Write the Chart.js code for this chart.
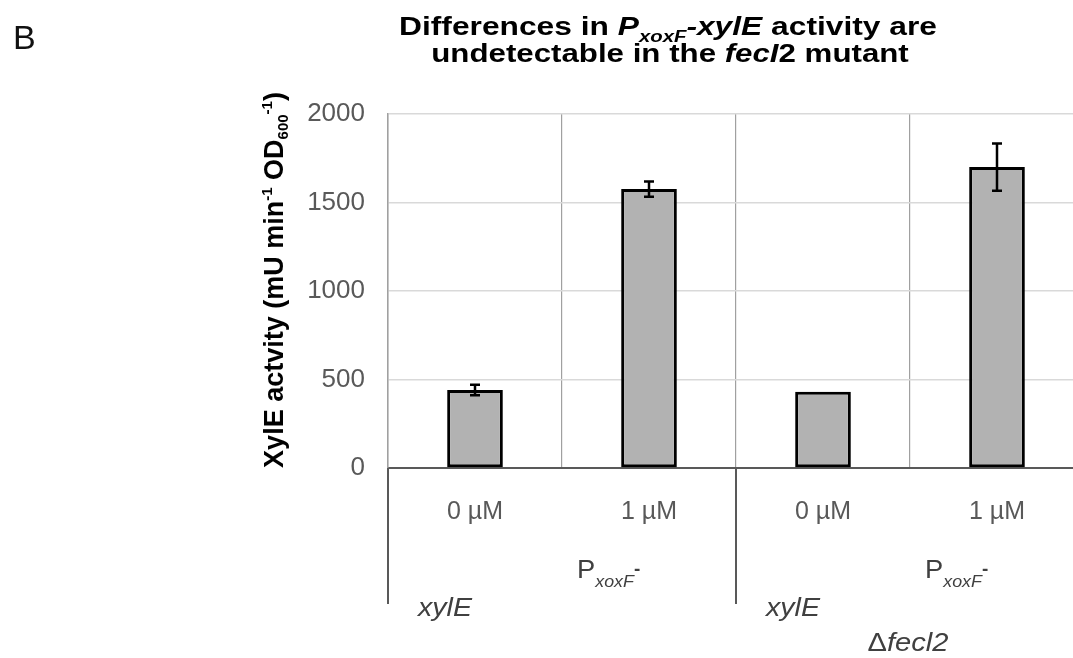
<!DOCTYPE html>
<html>
<head>
<meta charset="utf-8">
<script src="https://cdn.jsdelivr.net/npm/chart.js@4/dist/chart.umd.min.js"></script>
<style>
html,body{margin:0;padding:0;background:#fff;overflow:hidden;width:1073px;height:658px}
#wrap{width:1073px;height:658px;overflow:hidden;position:relative;background:#fff}
canvas{position:absolute;left:0;top:0}
</style>
</head>
<body>
<div id="wrap"><canvas id="c" width="1100" height="658"></canvas></div>
<script>
// ---- data ----
const categories = ['0 µM', '1 µM', '0 µM', '1 µM'];
const activity = [441, 1576, 431, 1700];
const activityErr = [30, 43, 0, 133];
const yTickValues = [0, 500, 1000, 1500, 2000];
const groupPromoter = ['P', 'P'];
const groupPromoterSub = ['xoxF', 'xoxF'];
const groupGene = ['xylE', 'xylE'];
const groupBackground = ['', 'Δfecl2'];
const groupSize = 2;
const panelLetter = 'B';

const FAM = '"Liberation Sans", Arial, Helvetica, sans-serif';

function drawRuns(ctx, runs, x, y, align, scaleX) {
  scaleX = scaleX || 1;
  let w = 0;
  runs.forEach(r => { ctx.font = r.font; r.w = ctx.measureText(r.text).width; w += r.w; });
  ctx.save();
  ctx.translate(x, y);
  ctx.scale(scaleX, 1);
  let cx = align === 'center' ? -w / 2 : 0;
  ctx.textBaseline = 'alphabetic';
  ctx.textAlign = 'left';
  runs.forEach(r => {
    ctx.font = r.font;
    ctx.fillStyle = r.color || '#000';
    ctx.fillText(r.text, cx, r.dy || 0);
    cx += r.w;
  });
  ctx.restore();
  return w * scaleX;
}

const annot = {
  id: 'annot',
  afterDatasetsDraw(chart) {
    const ctx = chart.ctx;
    const y = chart.scales.y;
    const meta = chart.getDatasetMeta(0);
    ctx.save();
    ctx.strokeStyle = '#000';
    ctx.lineWidth = 2.5;
    meta.data.forEach((bar, i) => {
      const e = activityErr[i];
      if (!e) return;
      const v = activity[i];
      const y1 = y.getPixelForValue(v + e), y2 = y.getPixelForValue(v - e);
      ctx.beginPath();
      ctx.moveTo(bar.x, y1); ctx.lineTo(bar.x, y2);
      ctx.moveTo(bar.x - 5, y1); ctx.lineTo(bar.x + 5, y1);
      ctx.moveTo(bar.x - 5, y2); ctx.lineTo(bar.x + 5, y2);
      ctx.stroke();
    });
    ctx.restore();
  },
  afterDraw(chart) {
    const ctx = chart.ctx;
    const xs = chart.scales.x;
    const area = chart.chartArea;
    const cw = xs.getPixelForValue(1) - xs.getPixelForValue(0);

    // panel letter
    ctx.save();
    ctx.font = '34px ' + FAM;
    ctx.fillStyle = '#111';
    ctx.textBaseline = 'alphabetic';
    ctx.fillText(panelLetter, 13, 49);
    ctx.restore();

    // title
    const B = 'bold 25px ' + FAM, BI = 'bold italic 25px ' + FAM, BIs = 'bold italic 16px ' + FAM;
    const line1 = [
      {text: 'Differences in ', font: B},
      {text: 'P', font: BI},
      {text: 'xoxF', font: BIs, dy: 7},
      {text: '-xylE', font: BI},
      {text: ' activity are', font: B}
    ];
    const line2 = [
      {text: 'undetectable in the ', font: B},
      {text: 'fecI', font: BI},
      {text: '2', font: B},
      {text: ' mutant', font: B}
    ];
    drawRuns(ctx, line1, 668, 35, 'center', 1.27);
    drawRuns(ctx, line2, 670, 62, 'center', 1.25);

    // y axis title (rotated)
    ctx.save();
    ctx.translate(283, 280);
    ctx.rotate(-Math.PI / 2);
    const YB = 'bold 27px ' + FAM, YS = 'bold 15px ' + FAM;
    const yruns = [
      {text: 'XylE actvity (mU min', font: YB},
      {text: '-1', font: YS, dy: -11},
      {text: ' OD', font: YB},
      {text: '600', font: YS, dy: 5},
      {text: '-1', font: YS, dy: -11},
      {text: ')', font: YB}
    ];
    drawRuns(ctx, yruns, 0, 0, 'center', 1);
    ctx.restore();

    // group divider lines below axis
    ctx.save();
    ctx.strokeStyle = '#595959';
    ctx.lineWidth = 2;
    const nG = groupPromoter.length;
    for (let g = 0; g <= nG; g++) {
      const bx = Math.round(xs.getPixelForValue(g * groupSize) - cw / 2);
      ctx.beginPath();
      ctx.moveTo(bx, area.bottom);
      ctx.lineTo(bx, 604);
      ctx.stroke();
    }
    ctx.restore();

    // group labels
    for (let g = 0; g < nG; g++) {
      const left = xs.getPixelForValue(g * groupSize) - cw / 2;
      const center = left + cw * groupSize / 2;
      const col = '#404040';
      drawRuns(ctx, [
        {text: groupPromoter[g], font: '26px ' + FAM, color: col},
        {text: groupPromoterSub[g], font: 'italic 17px ' + FAM, color: col, dy: 9},
        {text: '-', font: 'bold 18px ' + FAM, color: col, dy: -3}
      ], center + 15, 578, 'left', 1.05);
      drawRuns(ctx, [{text: groupGene[g], font: 'italic 26px ' + FAM, color: col}],
        left + 30, 616, 'left', 1.1);
      if (groupBackground[g]) {
        drawRuns(ctx, [
          {text: groupBackground[g].slice(0, 1), font: '26px ' + FAM, color: col},
          {text: groupBackground[g].slice(1), font: 'italic 26px ' + FAM, color: col}
        ], center - 2, 651, 'center', 1.12);
      }
    }
  }
};

new Chart(document.getElementById('c'), {
  type: 'bar',
  data: {
    labels: categories,
    datasets: [{
      data: activity,
      backgroundColor: '#b2b2b2',
      borderColor: '#000',
      borderWidth: 3,
      borderSkipped: false,
      barPercentage: 0.32,
      categoryPercentage: 1
    }]
  },
  options: {
    responsive: false,
    animation: false,
    devicePixelRatio: 1,
    layout: {padding: {left: 0, top: 114, right: 16, bottom: 0}},
    plugins: {legend: {display: false}, tooltip: {enabled: false}, title: {display: false}},
    scales: {
      x: {
        grid: {color: '#a0a0a0', lineWidth: 1.2, offset: true, drawTicks: false},
        border: {color: '#595959', width: 2},
        ticks: {color: '#595959', font: {family: FAM, size: 25}, padding: 29, maxRotation: 0, autoSkip: false},
        afterFit(s) { s.height = 190; }
      },
      y: {
        min: 0, max: 2000,
        afterBuildTicks(s) { s.ticks = yTickValues.map(v => ({value: v})); },
        grid: {color: '#d9d9d9', lineWidth: 1.5, drawTicks: false},
        border: {color: '#a0a0a0', width: 1.5},
        ticks: {color: '#595959', font: {family: FAM, size: 26}, padding: 23, callback: v => String(v)},
        afterFit(s) { s.width = 388; }
      }
    }
  },
  plugins: [annot]
});
</script>
</body>
</html>
